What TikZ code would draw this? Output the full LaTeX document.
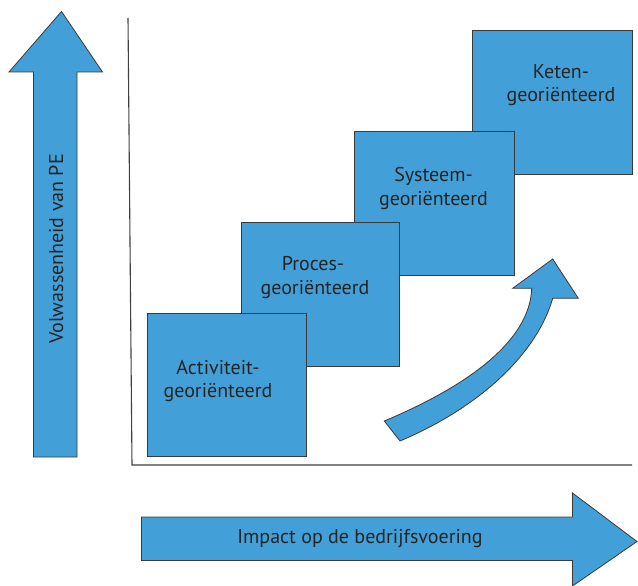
\documentclass[tikz,border=0pt]{standalone}
\usepackage{fontspec}
\setmainfont{PT Sans}
\definecolor{stepblue}{HTML}{439FD7}
\definecolor{edgegray}{HTML}{3A3A3A}
\definecolor{inkgray}{HTML}{242424}
\begin{document}
\begin{tikzpicture}[x=1pt,y=-1pt,
  shape fill/.style={fill=stepblue,draw=edgegray,line width=0.8pt,line join=miter},
  stepbox/.style={rectangle,fill=stepblue,draw=edgegray,line width=0.8pt,inner sep=0pt},
  steplabel/.style={text=inkgray,font=\fontsize{20}{24}\selectfont,align=center,inner sep=0pt,anchor=base},
  axisline/.style={draw=black!75,line width=1.1pt},
  axislabel/.style={text=inkgray,font=\fontsize{20}{24}\selectfont,inner sep=0pt,anchor=base}]
\useasboundingbox (0,0) rectangle (638,586);

% axes
\coordinate (ytop) at (128,18);
\coordinate (origin) at (132,465);
\coordinate (xend) at (632,465);
\draw[axisline] (ytop) -- (origin) -- (xend);

% vertical arrow: maturity
\filldraw[shape fill] (61.5,11.5) -- (102.5,72) -- (77,72) -- (77,457) -- (33.5,457) -- (33.5,72) -- (9,72) -- cycle;
\node[axislabel,rotate=90] (maturity) at (63,249) {Volwassenheid van PE};

% horizontal arrow: impact
\filldraw[shape fill] (141.5,517) -- (572.5,517) -- (572.5,493) -- (637,541.5) -- (572.5,586) -- (572.5,560.5) -- (141.5,560.5) -- cycle;
\node[axislabel] (impact) at (360,543) {Impact op de bedrijfsvoering};

% staircase of blocks, back to front
\node[stepbox,minimum width=160pt,minimum height=144pt] (keten) at (552.7,102) {};
\node[stepbox,minimum width=160pt,minimum height=144pt] (systeem) at (434,203.7) {};
\node[stepbox,minimum width=157.6pt,minimum height=143.3pt] (proces) at (320.5,294.3) {};
\node[stepbox,minimum width=159pt,minimum height=143.5pt] (activiteit) at (226.5,384.7) {};

\node[steplabel] (ketenA) at (561,79) {Keten-};
\node[steplabel] (ketenB) at (561,102) {georiënteerd};
\node[steplabel] (systeemA) at (433.5,181) {Systeem-};
\node[steplabel] (systeemB) at (433.5,205) {georiënteerd};
\node[steplabel] (procesA) at (313,270) {Proces-};
\node[steplabel] (procesB) at (315,294) {georiënteerd};
\node[steplabel] (activiteitA) at (218,374) {Activiteit-};
\node[steplabel] (activiteitB) at (218,397) {georiënteerd};

% curved growth arrow
\filldraw[shape fill] (384.3,421) .. controls (470,385) and (530,340) .. (531.7,288.3)
  -- (512.7,288.3) -- (552.7,259) -- (578.3,298.3) -- (552.7,298.3)
  .. controls (538,350) and (485,405) .. (400,441) -- cycle;
\end{tikzpicture}
\end{document}
